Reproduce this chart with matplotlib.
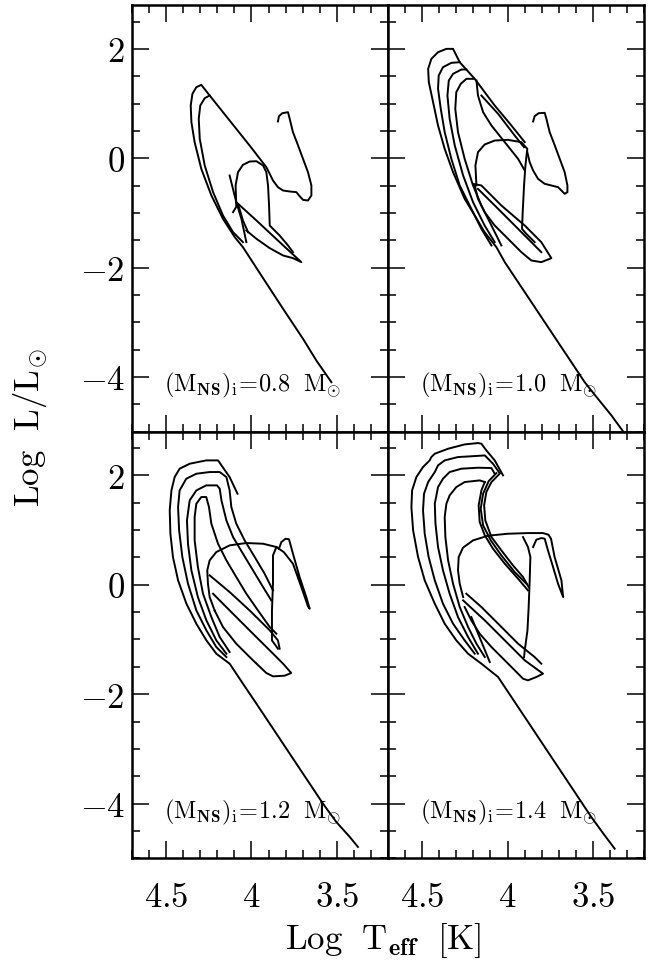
import matplotlib
matplotlib.use('Agg')
import matplotlib.pyplot as plt
from matplotlib.ticker import MultipleLocator, FuncFormatter

plt.rcParams['mathtext.fontset'] = 'cm'
plt.rcParams['font.family'] = ['DejaVu Serif']

# track pieces, as (Log Teff, Log L/Lsun) pairs
m08_tracks = [
    [(3.845, 0.672), (3.839, 0.769), (3.819, 0.824), (3.786, 0.842), (3.776, 0.720), (3.757, 0.477),
     (3.727, 0.233), (3.698, -0.011), (3.669, -0.255), (3.649, -0.498), (3.649, -0.681), (3.669, -0.773),
     (3.698, -0.761), (3.718, -0.693), (3.737, -0.620), (3.776, -0.608), (3.815, -0.590), (3.845, -0.529),
     (3.874, -0.407), (3.893, -0.285), (3.913, -0.163), (4.011, 0.233), (4.128, 0.690), (4.245, 1.147),
     (4.294, 1.342), (4.323, 1.299), (4.346, 1.177), (4.356, 0.964), (4.352, 0.659), (4.333, 0.294),
     (4.294, -0.194), (4.235, -0.681), (4.167, -1.108), (4.098, -1.443), (4.050, -1.626), (3.932, -2.193),
     (3.815, -2.753), (3.698, -3.302), (3.620, -3.698), (3.532, -4.094)],
    [(4.245, 1.147), (4.274, 1.098), (4.300, 0.964), (4.309, 0.720), (4.303, 0.355), (4.274, -0.133),
     (4.225, -0.620), (4.167, -1.047), (4.108, -1.352), (4.050, -1.534)],
    [(4.089, -0.864), (4.093, -0.498), (4.079, -0.255), (4.050, -0.121), (4.011, -0.060), (3.971, -0.054),
     (3.932, -0.133), (3.913, -0.255), (3.903, -0.498), (3.897, -0.864), (3.893, -1.230), (3.874, -1.291),
     (3.835, -1.413), (3.786, -1.595), (3.757, -1.717)],
    [(4.089, -0.803), (3.971, -1.138), (3.835, -1.534), (3.708, -1.900), (3.757, -1.827), (3.815, -1.778),
     (3.893, -1.644), (3.971, -1.473), (4.030, -1.321)],
    [(4.128, -0.316), (4.089, -0.803), (4.059, -1.108), (4.030, -1.534)],
    [(4.108, -0.986), (4.079, -0.834), (4.050, -1.138), (4.020, -1.352)],
]

m10_tracks = [
    [(3.850, 0.672), (3.841, 0.769), (3.817, 0.824), (3.782, 0.830), (3.772, 0.720), (3.753, 0.477),
     (3.723, 0.233), (3.694, -0.011), (3.665, -0.255), (3.649, -0.498), (3.649, -0.620), (3.665, -0.651),
     (3.684, -0.590), (3.704, -0.529), (3.743, -0.498), (3.782, -0.468), (3.821, -0.377), (3.850, -0.224),
     (3.870, -0.072), (3.884, 0.111)],
    [(4.182, -0.498), (4.188, -0.133), (4.173, 0.111), (4.134, 0.251), (4.075, 0.324), (3.997, 0.336),
     (3.919, 0.294), (3.884, 0.172), (3.895, -0.133), (3.903, -0.498), (3.911, -0.986), (3.915, -1.291),
     (3.890, -1.382), (3.841, -1.534)],
    [(3.899, 0.294), (3.977, 0.598), (4.075, 0.964), (4.192, 1.452), (4.280, 1.756), (4.319, 2.000),
     (4.358, 2.000), (4.407, 1.939), (4.446, 1.817), (4.465, 1.634), (4.461, 1.391), (4.436, 1.025),
     (4.407, 0.598), (4.368, 0.172), (4.319, -0.255), (4.251, -0.742), (4.192, -1.047), (4.134, -1.352),
     (4.065, -1.626), (4.016, -1.900), (3.938, -2.266), (3.860, -2.631), (3.782, -2.997), (3.704, -3.363),
     (3.626, -3.728), (3.548, -4.094), (3.470, -4.399), (3.391, -4.703), (3.313, -5.038)],
    [(4.280, 1.756), (4.329, 1.744), (4.378, 1.665), (4.403, 1.513), (4.407, 1.269), (4.391, 0.903),
     (4.368, 0.477), (4.329, -0.011), (4.280, -0.498), (4.212, -0.925), (4.153, -1.291), (4.094, -1.595)],
    [(4.241, 1.622), (4.270, 1.622), (4.319, 1.543), (4.344, 1.421), (4.352, 1.147), (4.339, 0.720),
     (4.309, 0.233), (4.260, -0.316), (4.202, -0.803), (4.134, -1.230), (4.075, -1.534)],
    [(4.196, 1.452), (4.241, 1.452), (4.274, 1.360), (4.300, 1.208), (4.306, 0.903), (4.290, 0.477),
     (4.251, -0.011), (4.202, -0.498), (4.153, -0.864), (4.094, -1.230), (4.036, -1.595)],
    [(4.182, 1.421), (4.173, 1.147), (4.143, 0.842), (4.094, 0.598), (4.016, 0.294), (3.938, -0.011),
     (3.899, -0.224)],
    [(4.153, 1.147), (4.055, 0.812), (3.958, 0.416), (3.903, 0.202)],
    [(4.202, -0.468), (4.153, -0.498), (4.036, -0.864), (3.899, -1.230), (3.802, -1.534), (3.743, -1.827),
     (3.802, -1.900), (3.860, -1.870), (3.919, -1.717), (3.997, -1.473), (4.075, -1.230), (4.134, -0.986),
     (4.173, -0.742), (4.192, -0.498)],
    [(4.173, -0.560), (4.055, -0.925), (3.938, -1.291), (3.841, -1.595), (3.802, -1.717)],
]

m12_tracks = [
    [(3.839, 0.660), (3.825, 0.782), (3.800, 0.843), (3.780, 0.831), (3.757, 0.569), (3.718, 0.142),
     (3.679, -0.224), (3.659, -0.437), (3.669, -0.394), (3.708, -0.041), (3.757, 0.386), (3.811, 0.599),
     (3.854, 0.691), (3.932, 0.751), (4.030, 0.764), (4.128, 0.721), (4.206, 0.599), (4.245, 0.447),
     (4.259, 0.264), (4.255, 0.020), (4.245, -0.224), (4.216, -0.468)],
    [(3.854, 0.691), (3.874, 0.538), (3.874, 0.020), (3.880, -0.468), (3.880, -1.016), (3.845, -1.168)],
    [(4.082, 1.666), (4.128, 1.970), (4.196, 2.275), (4.265, 2.275), (4.362, 2.214), (4.421, 2.123),
     (4.450, 1.970), (4.469, 1.726), (4.479, 1.361), (4.475, 0.934), (4.460, 0.508), (4.430, 0.081),
     (4.381, -0.346), (4.323, -0.712), (4.264, -1.016), (4.206, -1.260), (4.128, -1.442), (4.050, -1.808),
     (3.971, -2.174), (3.893, -2.539), (3.815, -2.905), (3.737, -3.271), (3.659, -3.636), (3.581, -4.002),
     (3.503, -4.337), (3.424, -4.611), (3.376, -4.794)],
    [(3.874, -0.102), (3.923, 0.203), (3.981, 0.508), (4.040, 0.812), (4.089, 1.117), (4.118, 1.422),
     (4.128, 1.726), (4.147, 1.970), (4.186, 2.062), (4.245, 2.062), (4.323, 2.031), (4.382, 1.940),
     (4.421, 1.726), (4.430, 1.422), (4.424, 0.995), (4.405, 0.508), (4.372, 0.020), (4.323, -0.468),
     (4.264, -0.834), (4.206, -1.138), (4.147, -1.321)],
    [(3.884, -0.285), (3.932, -0.041), (3.991, 0.264), (4.050, 0.569), (4.108, 0.873), (4.147, 1.178),
     (4.176, 1.544), (4.186, 1.757), (4.202, 1.818), (4.265, 1.818), (4.323, 1.726), (4.362, 1.544),
     (4.378, 1.178), (4.372, 0.751), (4.352, 0.264), (4.314, -0.224), (4.264, -0.651), (4.206, -1.016),
     (4.147, -1.260)],
    [(3.854, -0.894), (3.893, -0.772), (3.962, -0.468), (4.030, -0.163), (4.089, 0.142), (4.147, 0.447),
     (4.196, 0.751), (4.235, 1.117), (4.249, 1.422), (4.265, 1.605), (4.294, 1.605), (4.323, 1.483),
     (4.333, 1.239), (4.333, 0.812), (4.314, 0.325), (4.284, -0.163), (4.235, -0.590), (4.186, -0.955),
     (4.128, -1.229)],
    [(4.245, 0.173), (4.128, -0.132), (4.011, -0.468), (3.893, -0.833), (3.845, -1.016), (3.835, -1.168)],
    [(4.225, -0.163), (4.128, -0.468), (4.011, -0.833), (3.893, -1.199), (3.815, -1.442), (3.767, -1.613),
     (3.806, -1.662), (3.874, -1.674), (3.913, -1.613), (3.991, -1.381), (4.089, -1.077), (4.167, -0.772),
     (4.216, -0.468)],
]

m14_tracks = [
    [(3.850, 0.690), (3.831, 0.825), (3.802, 0.855), (3.782, 0.843), (3.763, 0.630), (3.733, 0.325),
     (3.704, 0.020), (3.674, -0.224), (3.684, 0.081), (3.724, 0.508), (3.745, 0.843), (3.760, 0.916),
     (3.792, 0.946), (3.880, 0.946), (3.997, 0.934), (4.114, 0.898), (4.202, 0.812), (4.261, 0.678),
     (4.286, 0.508), (4.290, 0.264), (4.280, 0.020), (4.260, -0.224)],
    [(3.909, 0.873), (3.880, 0.690), (3.866, 0.508), (3.870, 0.081), (3.876, -0.406), (3.883, -0.833),
     (3.899, -1.199), (3.903, -1.321)],
    [(4.026, 2.001), (4.075, 2.275), (4.124, 2.458), (4.153, 2.580), (4.173, 2.592), (4.251, 2.567),
     (4.348, 2.488), (4.426, 2.397), (4.446, 2.336), (4.456, 2.275), (4.495, 2.153), (4.534, 1.970),
     (4.559, 1.726), (4.563, 1.422), (4.553, 0.995), (4.524, 0.508), (4.485, 0.081), (4.426, -0.346),
     (4.368, -0.712), (4.300, -1.016), (4.231, -1.260), (4.153, -1.442), (4.055, -1.686), (3.977, -2.052),
     (3.899, -2.417), (3.821, -2.783), (3.743, -3.149), (3.665, -3.514), (3.587, -3.880), (3.509, -4.246),
     (3.431, -4.581), (3.372, -4.825)],
    [(4.046, 2.043), (4.085, 2.214), (4.133, 2.366), (4.192, 2.354), (4.290, 2.336), (4.368, 2.275),
     (4.407, 2.184), (4.426, 2.062), (4.465, 1.879), (4.489, 1.666), (4.495, 1.361), (4.485, 0.934),
     (4.462, 0.508), (4.426, 0.081), (4.378, -0.346), (4.319, -0.711), (4.251, -1.016), (4.192, -1.260)],
    [(4.075, 2.031), (4.094, 2.135), (4.173, 2.141), (4.270, 2.123), (4.339, 2.062), (4.378, 1.940),
     (4.407, 1.787), (4.426, 1.483), (4.422, 1.117), (4.407, 0.690), (4.378, 0.264), (4.339, -0.163),
     (4.290, -0.590), (4.231, -0.955), (4.173, -1.260)],
    [(4.133, 1.879), (4.163, 1.909), (4.251, 1.879), (4.300, 1.787), (4.339, 1.635), (4.358, 1.483),
     (4.368, 1.239), (4.364, 0.873), (4.348, 0.447), (4.319, 0.020), (4.280, -0.406), (4.231, -0.772),
     (4.182, -1.077), (4.133, -1.321)],
    [(4.046, 2.031), (4.094, 1.879), (4.124, 1.696), (4.137, 1.452), (4.130, 1.178), (4.094, 0.873),
     (4.036, 0.630), (3.968, 0.355), (3.909, 0.142), (3.876, -0.041)],
    [(4.065, 2.043), (4.110, 1.897), (4.143, 1.666), (4.157, 1.391), (4.143, 1.087), (4.098, 0.812),
     (4.036, 0.538), (3.958, 0.233), (3.889, 0.020)],
    [(4.133, 1.879), (4.153, 1.726), (4.169, 1.452), (4.163, 1.148), (4.133, 0.904), (4.085, 0.660),
     (4.016, 0.386), (3.938, 0.111), (3.880, -0.102)],
    [(4.241, -0.163), (4.153, -0.406), (4.055, -0.711), (3.938, -1.077), (3.841, -1.321), (3.802, -1.442)],
    [(4.260, -0.285), (4.133, -0.651), (4.016, -1.016), (3.899, -1.381), (3.792, -1.625), (3.831, -1.686),
     (3.880, -1.747), (3.909, -1.717), (3.938, -1.625), (4.016, -1.381), (4.094, -1.138), (4.163, -0.894),
     (4.212, -0.651), (4.251, -0.406)],
    [(4.212, -0.590), (4.104, -1.412)],
]

ns_masses = ['0.8', '1.0', '1.2', '1.4']
panel_tracks = [m08_tracks, m10_tracks, m12_tracks, m14_tracks]

fig = plt.figure(figsize=(6.48, 9.64), dpi=100)

left, width = 0.2037, 0.3951
bottom, height = 0.1097, 0.4425
positions = [(left, bottom + height), (left + width, bottom + height),
             (left, bottom), (left + width, bottom)]

fmt = FuncFormatter(lambda v, p: '$%g$' % v)

for i, (pos, tracks, m) in enumerate(zip(positions, panel_tracks, ns_masses)):
    ax = fig.add_axes([pos[0], pos[1], width, height])
    for seg in tracks:
        t = [p[0] for p in seg]
        l = [p[1] for p in seg]
        ax.plot(t, l, color='black', lw=1.4, solid_joinstyle='round')
    ax.set_xlim(4.7, 3.2)
    ax.set_ylim(-5, 2.8)
    ax.xaxis.set_major_locator(MultipleLocator(0.5))
    ax.xaxis.set_minor_locator(MultipleLocator(0.1))
    ax.yaxis.set_major_locator(MultipleLocator(2))
    ax.yaxis.set_minor_locator(MultipleLocator(0.5))
    ax.tick_params(which='both', direction='in', top=True, right=True, width=1.1)
    ax.tick_params(which='major', length=12)
    ax.tick_params(which='minor', length=5.5)
    ax.tick_params(axis='x', labelsize=25, pad=16)
    ax.tick_params(axis='y', labelsize=25, pad=5)
    ax.xaxis.set_major_formatter(fmt)
    ax.yaxis.set_major_formatter(fmt)
    if i < 2:
        ax.tick_params(axis='x', labelbottom=False)
    if i % 2 == 1:
        ax.tick_params(axis='y', labelleft=False)
    for s in ax.spines.values():
        s.set_linewidth(1.8)
    ax.text(4.51, -4.16, r'$(\mathrm{M}_{\mathbf{NS}})_{\mathrm{i}}\!=\!' + m + r'\ \ \mathrm{M}_{\odot}$',
            fontsize=17.5, ha='left', va='center')

fig.text(0.046, 0.556, r'$\mathrm{Log\ \ L/L_{\odot}}$', rotation=90, fontsize=25,
         ha='center', va='center')
fig.text(0.592, 0.016, r'$\mathrm{Log\ \ T_{\mathbf{eff}}\ \ [K]}$', fontsize=25,
         ha='center', va='baseline')

fig.savefig('out.png', dpi=100)
